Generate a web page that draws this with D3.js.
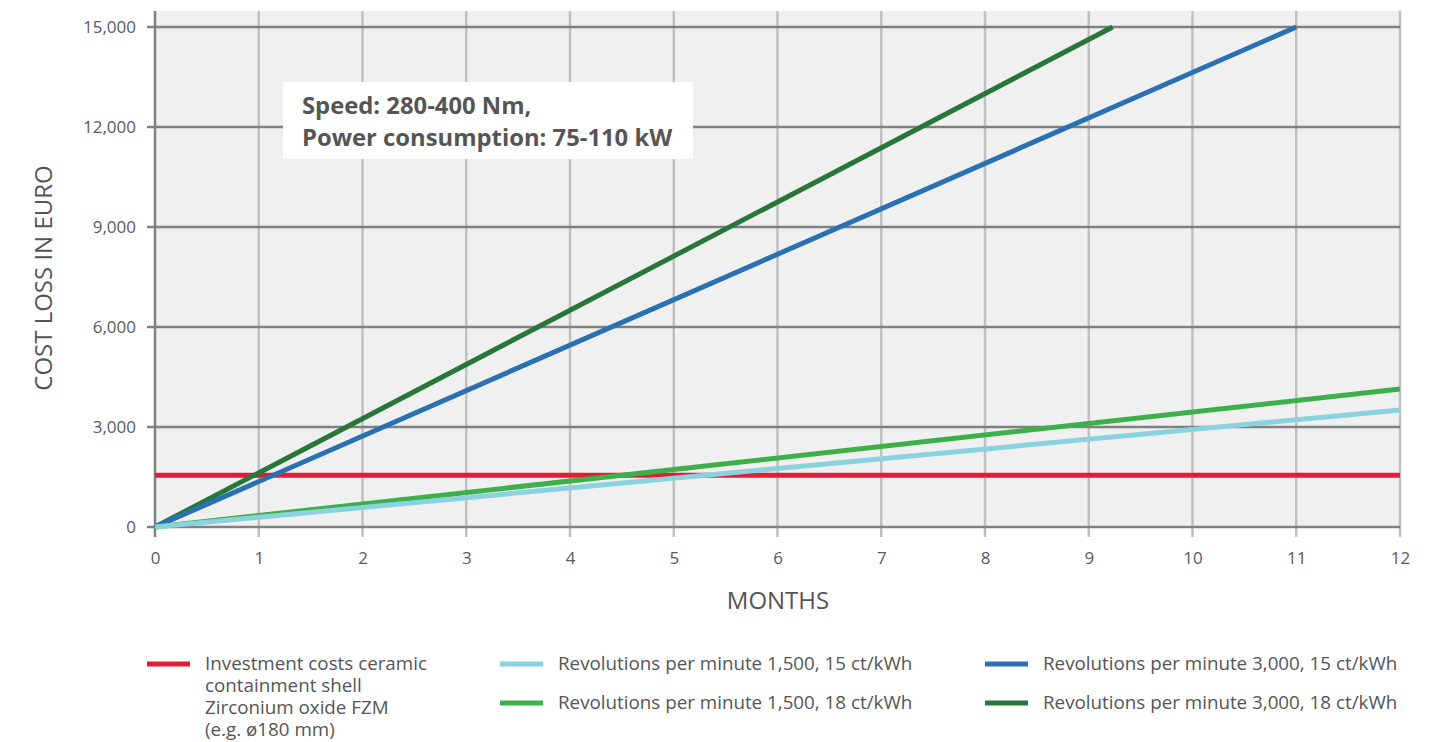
<!DOCTYPE html>
<html>
<head>
<meta charset="utf-8">
<script src="https://cdn.jsdelivr.net/npm/d3@7"></script>
<style>
  html, body { margin: 0; padding: 0; background: #fff; }
  svg { display: block; font-family: "Open Sans", "Noto Sans", sans-serif; }
</style>
</head>
<body>
<svg id="chart" width="1436" height="742"></svg>
<script>
// ---- Data ----
const monthTicks = [0,1,2,3,4,5,6,7,8,9,10,11,12];
const costTicks = [0, 3000, 6000, 9000, 12000, 15000];

const investmentCost = [[0, 1550], [12, 1550]];
const rpm1500_15ct = [[0, 0], [12, 3510]];
const rpm1500_18ct = [[0, 0], [12, 4140]];
const rpm3000_15ct = [[0, 0], [11, 15000]];
const rpm3000_18ct = [[0, 0], [9.23, 15000]];

const seriesNames = [
  "Investment costs ceramic|containment shell|Zirconium oxide FZM|(e.g. ø180 mm)",
  "Revolutions per minute 1,500, 15 ct/kWh",
  "Revolutions per minute 1,500, 18 ct/kWh",
  "Revolutions per minute 3,000, 15 ct/kWh",
  "Revolutions per minute 3,000, 18 ct/kWh"
];
const seriesColors = ["#e31d34", "#8ad2e0", "#3db04b", "#2a71b4", "#29763a"];
const annotationLines = ["Speed: 280-400 Nm,", "Power consumption: 75-110 kW"];

// ---- Layout ----
const svg = d3.select("#chart");
const mLeft = 155, mRight = 1400, mTop = 27, mBottom = 527, plotTop = 11;

const x = d3.scaleLinear().domain([0, 12]).range([mLeft, mRight]);
const y = d3.scaleLinear().domain([0, 15000]).range([mBottom, mTop]);

// background
svg.append("rect").attr("x", mLeft).attr("y", plotTop)
  .attr("width", mRight - mLeft).attr("height", mBottom - plotTop)
  .attr("fill", "#f0f0f0");

// vertical grid
svg.append("g").selectAll("line").data(monthTicks.slice(1)).join("line")
  .attr("x1", d => x(d)).attr("x2", d => x(d))
  .attr("y1", plotTop).attr("y2", mBottom + 10)
  .attr("stroke", "#c0c0c0").attr("stroke-width", 2.5);

// horizontal grid
svg.append("g").selectAll("line").data(costTicks).join("line")
  .attr("x1", mLeft - 8).attr("x2", mRight)
  .attr("y1", d => y(d)).attr("y2", d => y(d))
  .attr("stroke", "#808080").attr("stroke-width", 2.5);

// y axis line
svg.append("line").attr("x1", mLeft).attr("x2", mLeft)
  .attr("y1", plotTop).attr("y2", mBottom + 10)
  .attr("stroke", "#808080").attr("stroke-width", 2.5);

// axes labels via d3 axes (text only)
const yAxis = d3.axisLeft(y).tickValues(costTicks).tickFormat(d3.format(",")).tickSize(0).tickPadding(19);
const gy = svg.append("g").attr("transform", `translate(${mLeft},0)`).call(yAxis);
gy.select(".domain").remove();
gy.selectAll("text").attr("font-size", 17).attr("fill", "#5a5a5a").attr("font-family", "Open Sans, sans-serif");

const xAxis = d3.axisBottom(x).tickValues(monthTicks).tickFormat(d3.format("d")).tickSize(0).tickPadding(25);
const gx = svg.append("g").attr("transform", `translate(0,${mBottom})`).call(xAxis);
gx.select(".domain").remove();
gx.selectAll("text").attr("font-size", 17).attr("fill", "#5a5a5a").attr("font-family", "Open Sans, sans-serif");

// axis titles
svg.append("text").attr("x", 778).attr("y", 609)
  .attr("text-anchor", "middle").attr("font-size", 24).attr("fill", "#555")
  .text("MONTHS");
svg.append("text").attr("transform", `translate(52,278) rotate(-90)`)
  .attr("text-anchor", "middle").attr("font-size", 24).attr("fill", "#555")
  .text("COST LOSS IN EURO");

// series lines
const series = [investmentCost, rpm1500_15ct, rpm1500_18ct, rpm3000_15ct, rpm3000_18ct];
const line = d3.line().x(d => x(d[0])).y(d => y(d[1]));
const drawOrder = [0, 4, 3, 2, 1];
drawOrder.forEach(i => {
  svg.append("path").datum(series[i]).attr("d", line)
    .attr("fill", "none").attr("stroke", seriesColors[i]).attr("stroke-width", 5);
});

// annotation
svg.append("rect").attr("x", 283).attr("y", 82).attr("width", 410).attr("height", 77).attr("fill", "#fff");
svg.append("text").attr("x", 302).attr("y", 114).attr("font-size", 23.8).attr("font-weight", "bold").attr("fill", "#555")
  .selectAll("tspan").data(annotationLines).join("tspan")
  .attr("x", 302).attr("dy", (d, i) => i ? 32 : 0).text(d => d);

// legend
const legendPos = [[147, 664], [500, 664], [500, 703], [985, 664], [985, 703]];
seriesNames.forEach((name, i) => {
  const [lx, ly] = legendPos[i];
  const g = svg.append("g");
  g.append("line").attr("x1", lx).attr("x2", lx + 43).attr("y1", ly).attr("y2", ly)
    .attr("stroke", seriesColors[i]).attr("stroke-width", 5);
  name.split("|").forEach((s, k) => {
    g.append("text").attr("font-size", 18.8).attr("fill", "#555")
      .attr("x", lx + 58).attr("y", ly + 5.5 + k * 22.3).text(s);
  });
});
</script>
</body>
</html>
